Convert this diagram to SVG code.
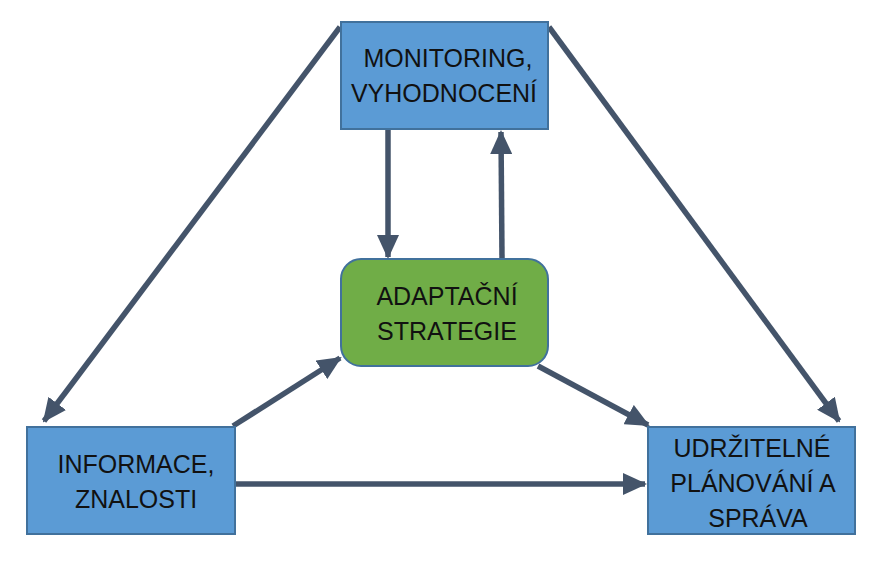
<svg xmlns="http://www.w3.org/2000/svg" width="893" height="566" viewBox="0 0 893 566">
<defs>
<style>
.box{fill:#5B9BD5;stroke:#41719C;stroke-width:2}
.green{fill:#70AD47;stroke:#41719C;stroke-width:2}
.t{font-family:"Liberation Sans",Arial,sans-serif;font-size:25px;fill:#111;text-anchor:middle}
.c{stroke:#44546A;stroke-width:5.5;fill:none;marker-end:url(#ah)}
</style>
<marker id="ah" markerUnits="userSpaceOnUse" markerWidth="24" markerHeight="22" refX="22" refY="11" orient="auto">
<path d="M0,0 L24,11 L0,22 Z" fill="#44546A"/>
</marker>
</defs>
<rect width="893" height="566" fill="#fff"/>
<g id="connectors">
<line class="c" x1="340" y1="27" x2="44" y2="421"/>
<line class="c" x1="549" y1="27" x2="839" y2="421"/>
<line class="c" x1="388" y1="130" x2="388" y2="257"/>
<line class="c" x1="502" y1="258" x2="501" y2="132"/>
<line class="c" x1="233" y1="426" x2="340" y2="358"/>
<line class="c" x1="538" y1="366" x2="648" y2="425"/>
<line class="c" x1="236" y1="484" x2="645" y2="484"/>
</g>
<g id="monitoring">
<rect class="box" x="341" y="22" width="207" height="107"/>
<text class="t" x="448" y="67">MONITORING,</text>
<text class="t" x="444" y="102">VYHODNOCENÍ</text>
</g>
<g id="adaptacni">
<rect class="green" x="341" y="259" width="207" height="107" rx="20"/>
<text class="t" x="447" y="305">ADAPTAČNÍ</text>
<text class="t" x="447" y="340">STRATEGIE</text>
</g>
<g id="informace">
<rect class="box" x="27" y="427" width="208" height="107"/>
<text class="t" x="136" y="473">INFORMACE,</text>
<text class="t" x="136" y="508">ZNALOSTI</text>
</g>
<g id="udrzitelne">
<rect class="box" x="648" y="427" width="207" height="107"/>
<text class="t" x="752" y="457">UDRŽITELNÉ</text>
<text class="t" x="753" y="492">PLÁNOVÁNÍ A</text>
<text class="t" x="758" y="527">SPRÁVA</text>
</g>
</svg>
